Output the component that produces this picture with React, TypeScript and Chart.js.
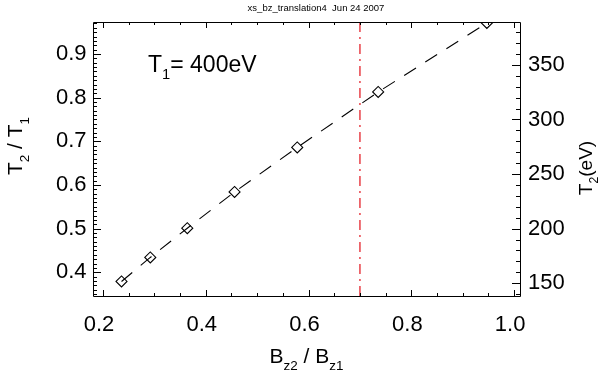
import React, { useEffect, useRef } from 'react';
import { Chart, registerables } from 'chart.js';

Chart.register(...registerables);

// ---- data ----
const ratioBz = [0.236, 0.292, 0.364, 0.456, 0.578, 0.7355, 0.947];
const ratioT = [0.379, 0.434, 0.501, 0.584, 0.686, 0.813, 0.971];
const criticalBz = [0.7];
const T1_eV = 400;
const xTicks = [0.2, 0.4, 0.6, 0.8, 1.0];
const yTicks = [0.4, 0.5, 0.6, 0.7, 0.8, 0.9];
const y2Ticks = [150, 200, 250, 300, 350];
const xRange = [0.1805, 1.0115];
const yRange = [0.3457, 0.9733];
const xMinorStep = 0.05;
const yMinorStep = 0.01;
const y2MinorStep = 10;
const titleText = 'xs_bz_translation4  Jun 24 2007';
const annotationParts: [string, boolean][] = [['T', false], ['1', true], ['= ' + T1_eV + 'eV', false]];
const xTitleParts: [string, boolean][] = [['B', false], ['z2', true], [' / B', false], ['z1', true]];
const yTitleParts: [string, boolean][] = [['T', false], ['2', true], [' / T', false], ['1', true]];
const y2TitleParts: [string, boolean][] = [['T', false], ['2', true], ['(eV)', false]];

const FONT = '"Liberation Sans", Arial, Helvetica, sans-serif';

function drawRich(ctx: CanvasRenderingContext2D, parts: [string, boolean][], x: number, y: number, size: number, align: 'left' | 'center') {
  const subSize = size * 0.64;
  let w = 0;
  const widths: number[] = [];
  for (const [t, sub] of parts) {
    ctx.font = `${sub ? subSize : size}px ${FONT}`;
    const m = ctx.measureText(t).width;
    widths.push(m);
    w += m;
  }
  let cx = align === 'center' ? x - w / 2 : x;
  ctx.textAlign = 'left';
  ctx.textBaseline = 'alphabetic';
  parts.forEach(([t, sub], i) => {
    ctx.font = `${sub ? subSize : size}px ${FONT}`;
    ctx.fillText(t, cx, sub ? y + size * 0.32 : y);
    cx += widths[i];
  });
}

function valuesBetween(min: number, max: number, step: number) {
  const out: number[] = [];
  const start = Math.ceil(min / step - 1e-9);
  const end = Math.floor(max / step + 1e-9);
  for (let i = start; i <= end; i++) out.push(i * step);
  return out;
}

const framePlugin = {
  id: 'idlFrame',
  afterDraw(chart: any) {
    const { ctx, chartArea } = chart;
    const { left, right, top, bottom } = chartArea;
    const x = chart.scales.x;
    const y = chart.scales.y;
    const y2 = chart.scales.y2;
    ctx.save();
    ctx.strokeStyle = '#000';
    ctx.lineWidth = 1;
    ctx.beginPath();
    ctx.rect(Math.round(left) + 0.5, Math.round(top) + 0.5, Math.round(right - left), Math.round(bottom - top));
    ctx.stroke();

    ctx.beginPath();
    // x ticks (bottom and top)
    const xMajor = new Set(xTicks.map((v) => v.toFixed(3)));
    for (const v of valuesBetween(xRange[0], xRange[1], xMinorStep)) {
      const px = Math.round(x.getPixelForValue(v)) + 0.5;
      const len = xMajor.has(v.toFixed(3)) ? 6 : 3;
      ctx.moveTo(px, bottom);
      ctx.lineTo(px, bottom - len);
      ctx.moveTo(px, top);
      ctx.lineTo(px, top + len);
    }
    // left y ticks
    const yMajor = new Set(yTicks.map((v) => v.toFixed(3)));
    for (const v of valuesBetween(yRange[0], yRange[1], yMinorStep)) {
      const py = Math.round(y.getPixelForValue(v)) + 0.5;
      const len = yMajor.has(v.toFixed(3)) ? 8 : 4;
      ctx.moveTo(left, py);
      ctx.lineTo(left + len, py);
    }
    // right y2 ticks
    const y2Major = new Set(y2Ticks.map((v) => v.toFixed(1)));
    for (const v of valuesBetween(yRange[0] * T1_eV, yRange[1] * T1_eV, y2MinorStep)) {
      const py = Math.round(y2.getPixelForValue(v)) + 0.5;
      const len = y2Major.has(v.toFixed(1)) ? 8 : 4;
      ctx.moveTo(right, py);
      ctx.lineTo(right - len, py);
    }
    ctx.stroke();

    ctx.fillStyle = '#000';
    // top title
    ctx.font = `9.5px ${FONT}`;
    ctx.textAlign = 'center';
    ctx.textBaseline = 'middle';
    ctx.fillText(titleText, 316, 8.5);

    // annotation
    drawRich(ctx, annotationParts, 148, 72, 23, 'left');

    // x title
    drawRich(ctx, xTitleParts, (left + right) / 2, 363, 21, 'center');

    // left y title (rotated)
    ctx.save();
    ctx.translate(22, 146);
    ctx.rotate(-Math.PI / 2);
    drawRich(ctx, yTitleParts, 0, 0, 21, 'center');
    ctx.restore();

    // right y title (rotated)
    ctx.save();
    ctx.translate(592, 168);
    ctx.rotate(-Math.PI / 2);
    drawRich(ctx, y2TitleParts, 0, 0, 19, 'center');
    ctx.restore();

    ctx.restore();
  },
};

export default function App() {
  const ref = useRef<HTMLCanvasElement | null>(null);

  useEffect(() => {
    if (!ref.current) return;
    Chart.defaults.font.family = FONT;
    const points = ratioBz.map((b, i) => ({ x: b, y: ratioT[i] }));
    const chart = new Chart(ref.current, {
      type: 'line',
      data: {
        datasets: [
          {
            label: 'T2/T1',
            data: points,
            yAxisID: 'y',
            borderColor: '#000',
            borderWidth: 1.1,
            borderDash: [14, 11],
            tension: 0,
            fill: false,
            pointStyle: 'rectRot',
            pointRadius: 5.5,
            pointBorderWidth: 1.1,
            pointBorderColor: '#000',
            pointBackgroundColor: 'rgba(0,0,0,0)',
          },
          {
            label: 'critical',
            data: [
              { x: criticalBz[0], y: yRange[0] },
              { x: criticalBz[0], y: yRange[1] },
            ],
            yAxisID: 'y',
            borderColor: 'rgb(232,64,72)',
            borderWidth: 1.5,
            borderDash: [10, 5, 2, 5],
            pointRadius: 0,
            fill: false,
          },
        ],
      },
      options: {
        responsive: false,
        animation: false,
        events: [],
        layout: { padding: { top: 22, left: 0, right: 0, bottom: 0 } },
        plugins: {
          legend: { display: false },
          tooltip: { enabled: false },
          title: { display: false },
        },
        scales: {
          x: {
            type: 'linear',
            position: 'bottom',
            min: xRange[0],
            max: xRange[1],
            grid: { display: false, drawTicks: false },
            border: { display: false },
            afterBuildTicks: (s: any) => {
              s.ticks = xTicks.map((v) => ({ value: v }));
            },
            afterFit: (s: any) => {
              s.height = 79;
            },
            ticks: {
              font: { size: 22 },
              color: '#000',
              padding: 16,
              labelOffset: -4,
              maxRotation: 0,
              autoSkip: false,
              callback: (v: any) => Number(v).toFixed(1),
            },
          },
          y: {
            type: 'linear',
            position: 'left',
            min: yRange[0],
            max: yRange[1],
            grid: { display: false, drawTicks: false },
            border: { display: false },
            afterBuildTicks: (s: any) => {
              s.ticks = yTicks.map((v) => ({ value: v }));
            },
            afterFit: (s: any) => {
              s.width = 93;
            },
            ticks: {
              font: { size: 22 },
              color: '#000',
              padding: 6.5,
              autoSkip: false,
              callback: (v: any) => Number(v).toFixed(1),
            },
          },
          y2: {
            type: 'linear',
            position: 'right',
            min: yRange[0] * T1_eV,
            max: yRange[1] * T1_eV,
            grid: { display: false, drawTicks: false },
            border: { display: false },
            afterBuildTicks: (s: any) => {
              s.ticks = y2Ticks.map((v) => ({ value: v }));
            },
            afterFit: (s: any) => {
              s.width = 80;
            },
            ticks: {
              font: { size: 22 },
              color: '#000',
              padding: 8,
              autoSkip: false,
              callback: (v: any) => String(v),
            },
          },
        },
      },
      plugins: [framePlugin],
    } as any);
    return () => chart.destroy();
  }, []);

  return (
    <div style={{ position: 'fixed', left: 0, top: 0, width: 600, height: 375, background: '#fff' }}>
      <canvas ref={ref} width={600} height={375} style={{ display: 'block', width: 600, height: 375 }} />
    </div>
  );
}
